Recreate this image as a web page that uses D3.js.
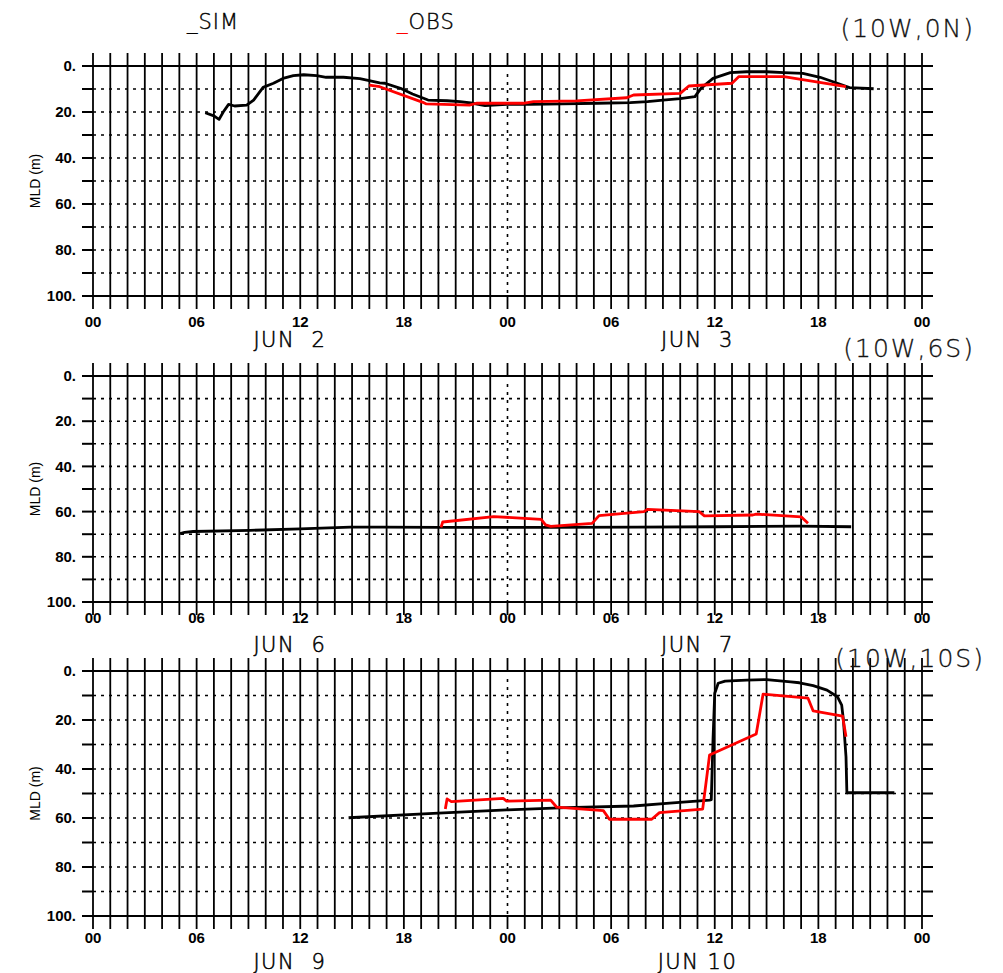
<!DOCTYPE html>
<html>
<head>
<meta charset="utf-8">
<script src="https://cdn.jsdelivr.net/npm/d3@7"></script>
<style>
  body { margin: 0; background: #fff; }
  svg { display: block; }
</style>
</head>
<body>
<svg id="chart"></svg>
<script>
// hours since 00 of the first day shown, MLD in metres
const sim1 = [[6.5,20.3],[7.0,21.7],[7.3,23.2],[7.55,19.9],[7.85,16.7],[8.2,17.4],[8.9,17],[9.3,14.8],[9.85,9.3],[10.45,7.5],[11.0,5.4],[11.6,4.2],[12.2,3.8],[12.95,4.2],[13.5,4.9],[14.5,4.9],[15.45,5.5],[16.6,7.3],[16.9,7.5],[17.8,9.7],[18.5,12.2],[19.4,14.8],[20.5,15.1],[21.25,15.5],[22.0,16.2],[22.7,17.2],[23.95,16.7],[25.3,16.7],[27.2,16.5],[29.2,16.2],[31.1,15.9],[32.1,15.5],[33.0,14.8],[34.0,14.2],[34.85,13.3],[35.2,9.7],[35.9,5.4],[36.9,2.9],[37.85,2.5],[39.0,2.5],[40.0,2.9],[41.1,3.2],[42.1,4.9],[43.1,7.5],[43.8,9.4],[45.2,9.9]];
const obs1 = [[16.0,8.3],[16.6,9.0],[19.1,15.8],[19.3,16.5],[21.8,17],[22.2,16.2],[24.9,16.2],[25.5,15.5],[28.0,15.2],[30.9,13.8],[31.3,12.6],[34.0,11.9],[34.5,8.7],[37.0,7.5],[37.4,4.6],[40.0,4.6],[43.6,9.0]];
const sim2 = [[5.0,69.8],[5.3,69.2],[5.8,68.8],[9.1,68.3],[12,67.6],[14.9,66.9],[16.8,66.9],[20.1,67],[26.5,67],[31.5,66.9],[36.1,66.7],[40.9,66.4],[43.9,66.7]];
const obs2 = [[20.15,67],[20.25,64.6],[23.2,62.2],[25.95,63.4],[26.2,65.9],[26.5,66.5],[28.9,65.2],[29.3,61.8],[31.9,60],[32.1,59],[35.1,60],[35.4,61.9],[38.2,61.5],[38.4,61.1],[41.0,62.3],[41.4,65.2]];
const sim3 = [[14.8,59.9],[19.7,58.1],[23.95,56.7],[27.4,55.8],[31.3,55.1],[33.2,54],[35.7,52.7],[35.8,52.5],[35.9,28],[36.0,9.1],[36.2,5.0],[36.6,4.1],[37.85,3.7],[39.0,3.5],[40.4,4.4],[40.9,4.8],[41.7,6.0],[42.5,7.8],[43.1,10.5],[43.35,13.9],[43.45,20],[43.6,35],[43.65,49.7],[46.4,49.7]];
const obs3 = [[20.4,56.3],[20.5,52.2],[20.75,53.3],[23.75,52],[23.95,53.1],[26.5,52.7],[26.85,55.6],[29.55,57],[29.9,60.5],[32.35,60.5],[32.8,57.8],[35.3,56.4],[35.7,34.3],[38.4,25.7],[38.8,9.4],[41.4,11.1],[41.7,16.3],[43.4,18.4],[43.6,26.8]];

const hourLabels = ['00', '06', '12', '18', '00', '06', '12', '18', '00'];
const dayLabels = [['JUN  2', 'JUN  3'], ['JUN  6', 'JUN  7'], ['JUN  9', 'JUN 10']];
const stationLabels = ['(10W,0N)', '(10W,6S)', '(10W,10S)'];
const depthTicks = [0, 20, 40, 60, 80, 100];

const panels = [
  { sim: sim1, obs: obs1, top: 66, bottom: 296, tickDy: 26, dayDy: 44, titleY: 28 },
  { sim: sim2, obs: obs2, top: 376, bottom: 602, tickDy: 16, dayDy: 43, titleY: 348 },
  { sim: sim3, obs: obs3, top: 671, bottom: 916, tickDy: 22, dayDy: 46, titleY: 658 },
];

const W = 1003, H = 973;
const svg = d3.select('#chart').attr('width', W).attr('height', H);

const x = d3.scaleLinear().domain([0, 48]).range([93, 922]);
const hours = d3.range(0, 49);

const thinFont = "'DejaVu Sans', sans-serif";
const tickFont = "'Liberation Sans', Arial, sans-serif";

panels.forEach((p, i) => {
  const y = d3.scaleLinear().domain([0, 100]).range([p.top, p.bottom]);
  const g = svg.append('g');

  // horizontal grid every 10 m: solid ticks outside, dotted inside
  d3.range(0, 101, 10).forEach((d) => {
    if (d === 0 || d === 100) {
      g.append('line').attr('x1', 82).attr('x2', 933)
        .attr('y1', y(d)).attr('y2', y(d))
        .attr('stroke', '#000').attr('stroke-width', 2);
    } else {
      g.append('line').attr('x1', 82).attr('x2', x(0))
        .attr('y1', y(d)).attr('y2', y(d))
        .attr('stroke', '#000').attr('stroke-width', 2);
      g.append('line').attr('x1', x(48)).attr('x2', 933)
        .attr('y1', y(d)).attr('y2', y(d))
        .attr('stroke', '#000').attr('stroke-width', 2);
      g.append('line').attr('x1', x(0)).attr('x2', x(48))
        .attr('y1', y(d)).attr('y2', y(d))
        .attr('stroke', '#000').attr('stroke-width', 1.6)
        .attr('stroke-dasharray', '3,5');
    }
  });

  // vertical hourly lines
  hours.forEach((h) => {
    if (h === 24) {
      g.append('line').attr('x1', x(h)).attr('x2', x(h))
        .attr('y1', p.top - 13).attr('y2', p.top)
        .attr('stroke', '#000').attr('stroke-width', 1.8);
      g.append('line').attr('x1', x(h)).attr('x2', x(h))
        .attr('y1', p.bottom).attr('y2', p.bottom + 13)
        .attr('stroke', '#000').attr('stroke-width', 1.8);
      g.append('line').attr('x1', x(h)).attr('x2', x(h))
        .attr('y1', p.top + 8).attr('y2', p.bottom)
        .attr('stroke', '#000').attr('stroke-width', 1.6)
        .attr('stroke-dasharray', '3,5');
    } else {
      g.append('line').attr('x1', x(h)).attr('x2', x(h))
        .attr('y1', p.top - 13).attr('y2', p.bottom + 13)
        .attr('stroke', '#000').attr('stroke-width', 1.8);
    }
  });

  // y tick labels
  g.selectAll('text.ytick').data(depthTicks).join('text')
    .attr('class', 'ytick')
    .attr('x', 76).attr('y', (d) => y(d))
    .attr('dy', '0.35em')
    .attr('text-anchor', 'end')
    .attr('font-family', tickFont).attr('font-weight', 'bold')
    .attr('font-size', 15)
    .text((d) => `${d}.`);

  // x tick labels
  g.selectAll('text.xtick').data(hourLabels).join('text')
    .attr('class', 'xtick')
    .attr('x', (d, k) => x(k * 6)).attr('y', p.bottom + p.tickDy)
    .attr('dy', '0.35em')
    .attr('text-anchor', 'middle')
    .attr('font-family', tickFont).attr('font-weight', 'bold')
    .attr('font-size', 15)
    .text((d) => d);

  // day labels
  g.selectAll('text.day').data(dayLabels[i]).join('text')
    .attr('class', 'day')
    .attr('x', (d, k) => x(11.4 + k * 23.6)).attr('y', p.bottom + p.dayDy)
    .attr('dy', '0.35em')
    .attr('text-anchor', 'middle')
    .attr('font-family', thinFont).attr('font-size', 21)
    .attr('font-weight', 200)
    .attr('letter-spacing', 1.5)
    .attr('fill', '#000').attr('stroke', '#000').attr('stroke-width', 0.5)
    .style('white-space', 'pre')
    .text((d) => d);

  // station title
  g.append('text')
    .attr('x', i === 2 ? 985 : 975).attr('y', p.titleY)
    .attr('dy', '0.35em')
    .attr('text-anchor', 'end')
    .attr('font-family', thinFont).attr('font-size', 25)
    .attr('font-weight', 200)
    .attr('letter-spacing', 2)
    .attr('fill', '#111').attr('stroke', '#111').attr('stroke-width', 0.3)
    .text(stationLabels[i]);

  // axis title
  g.append('text')
    .attr('transform', `translate(35,${(p.top + p.bottom) / 2}) rotate(-90)`)
    .attr('dy', '0.35em')
    .attr('text-anchor', 'middle')
    .attr('font-family', tickFont).attr('font-size', 14)
    .text('MLD (m)');

  const line = d3.line().x((d) => x(d[0])).y((d) => y(d[1]));

  g.append('path').datum(p.sim)
    .attr('d', line).attr('fill', 'none')
    .attr('stroke', '#000').attr('stroke-width', 2.8)
    .attr('stroke-linejoin', 'round');
  g.append('path').datum(p.obs)
    .attr('d', line).attr('fill', 'none')
    .attr('stroke', '#ff0000').attr('stroke-width', 2.8)
    .attr('stroke-linejoin', 'round');
});

// legend
const legend = svg.append('g')
  .attr('font-family', thinFont).attr('font-size', 21)
  .attr('font-weight', 200).attr('letter-spacing', 1)
  .attr('stroke-width', 0.4);
const sim = legend.append('text').attr('x', 187).attr('y', 29)
  .attr('fill', '#000').attr('stroke', '#000');
sim.append('tspan').text('_SIM');
const obs = legend.append('text').attr('x', 397).attr('y', 29);
obs.append('tspan').attr('fill', '#ff0000').attr('stroke', '#ff0000').text('_');
obs.append('tspan').attr('fill', '#000').attr('stroke', '#000').text('OBS');
</script>
</body>
</html>
